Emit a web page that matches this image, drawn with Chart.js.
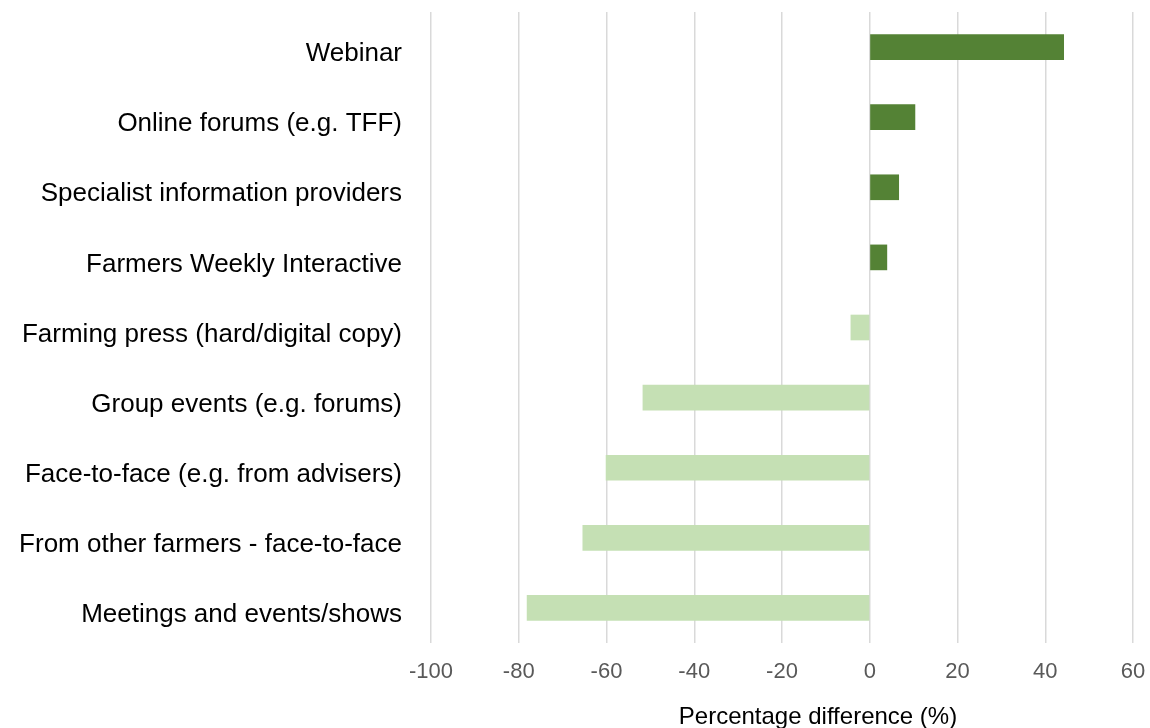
<!DOCTYPE html>
<html>
<head>
<meta charset="utf-8">
<script src="https://cdn.jsdelivr.net/npm/chart.js@4/dist/chart.umd.min.js"></script>
<style>
	html, body { margin: 0; padding: 0; background: #fff; }
	#wrap { width: 1150px; height: 728px; position: relative; }
</style>
</head>
<body>
<div id="wrap"><canvas id="chart" width="1150" height="728"></canvas></div>
<script>
	// Sources, top to bottom, with percentage difference.
	const categories = [
		'Webinar',
		'Online forums (e.g. TFF)',
		'Specialist information providers',
		'Farmers Weekly Interactive',
		'Farming press (hard/digital copy)',
		'Group events (e.g. forums)',
		'Face-to-face (e.g. from advisers)',
		'From other farmers - face-to-face',
		'Meetings and events/shows',
	];
	const differences = [ 44.2, 10.3, 6.6, 3.9, -4.3, -51.7, -60.1, -65.4, -78.1 ];
	const xTicks = [ -100, -80, -60, -40, -20, 0, 20, 40, 60 ];
	const axisTitle = 'Percentage difference (%)';

	const POS = '#548235';
	const NEG = '#c5e0b4';
	const FONT = '"Liberation Sans", Arial, sans-serif';

	// Axis title sits a bit right of the plot centre, as in the original.
	const axisTitlePlugin = {
		id: 'axisTitle',
		afterDraw( chart ) {
			const { ctx } = chart;
			const x = chart.scales.x;
			ctx.save();
			ctx.font = '24px ' + FONT;
			ctx.fillStyle = '#000';
			ctx.textAlign = 'center';
			ctx.textBaseline = 'middle';
			ctx.fillText( axisTitle, x.getPixelForValue( -11.8 ), 717 );
			ctx.restore();
		},
	};

	new Chart( document.getElementById( 'chart' ), {
		type: 'bar',
		data: {
			labels: categories,
			datasets: [ {
				data: differences,
				backgroundColor: differences.map( ( v ) => ( v >= 0 ? POS : NEG ) ),
				barThickness: 25,
			} ],
		},
		options: {
			indexAxis: 'y',
			responsive: false,
			animation: false,
			layout: { padding: { top: 12, right: 17, left: 0, bottom: 0 } },
			plugins: { legend: { display: false }, tooltip: { enabled: false } },
			scales: {
				x: {
					min: -100,
					max: 60,
					afterBuildTicks( scale ) { scale.ticks = xTicks.map( ( v ) => ( { value: v } ) ); },
					afterFit( scale ) {
						scale.height = 85;
						scale.paddingLeft = 0;
						scale.paddingRight = 0;
					},
					grid: { color: '#d9d9d9', lineWidth: 1.5, drawTicks: false },
					border: { display: false },
					ticks: {
						padding: 16,
						color: '#595959',
						font: { family: FONT, size: 22 },
					},
				},
				y: {
					afterFit( scale ) {
						scale.width = 431;
						scale.paddingTop = 0;
						scale.paddingBottom = 0;
					},
					grid: { display: false },
					border: { display: false },
					ticks: {
						padding: 21,
						labelOffset: 7,
						color: '#000',
						font: { family: FONT, size: 26 },
					},
				},
			},
		},
		plugins: [ axisTitlePlugin ],
	} );
</script>
</body>
</html>
